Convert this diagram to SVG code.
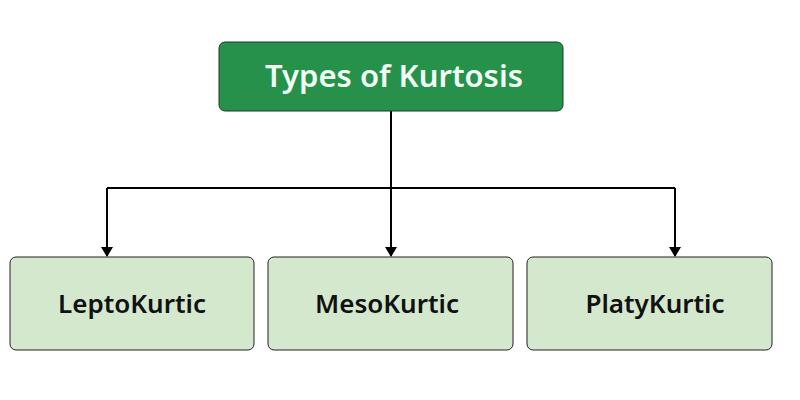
<svg xmlns="http://www.w3.org/2000/svg" width="800" height="400" viewBox="0 0 800 400">
<style>
.leaf rect{fill:#d4e8cd;stroke:#222;stroke-width:1}
.leaf text{font-family:"Noto Sans","Open Sans",sans-serif;font-weight:600;font-size:26px;fill:#111;text-anchor:middle}
.conn{fill:none;stroke:#000;stroke-width:2}
</style>
<defs>
<marker id="ah" markerWidth="10" markerHeight="12" refX="9" refY="6" orient="auto" markerUnits="userSpaceOnUse">
<path d="M0,0 L10,6 L0,12 Z" fill="#000"/>
</marker>
</defs>
<rect width="800" height="400" fill="#fff"/>
<g id="connectors">
<path class="conn" d="M391,111 V188"/>
<path class="conn" d="M107,188 H675"/>
<path class="conn" d="M107,188 V256" marker-end="url(#ah)"/>
<path class="conn" d="M391,188 V256" marker-end="url(#ah)"/>
<path class="conn" d="M675,188 V256" marker-end="url(#ah)"/>
</g>
<g id="root">
<rect x="219" y="42" width="344" height="69" rx="6" fill="#25914a" stroke="#1d3b26" stroke-width="1"/>
<text x="394" y="87" font-family="Noto Sans, Open Sans, sans-serif" font-weight="600" font-size="31" fill="#f2fff4" text-anchor="middle">Types of Kurtosis</text>
</g>
<g id="lepto" class="leaf">
<rect x="10" y="257" width="244" height="93" rx="6"/>
<text x="132" y="313">LeptoKurtic</text>
</g>
<g id="meso" class="leaf">
<rect x="268" y="257" width="245" height="93" rx="6"/>
<text x="387" y="313">MesoKurtic</text>
</g>
<g id="platy" class="leaf">
<rect x="527" y="257" width="245" height="93" rx="6"/>
<text x="655" y="313">PlatyKurtic</text>
</g>
</svg>
